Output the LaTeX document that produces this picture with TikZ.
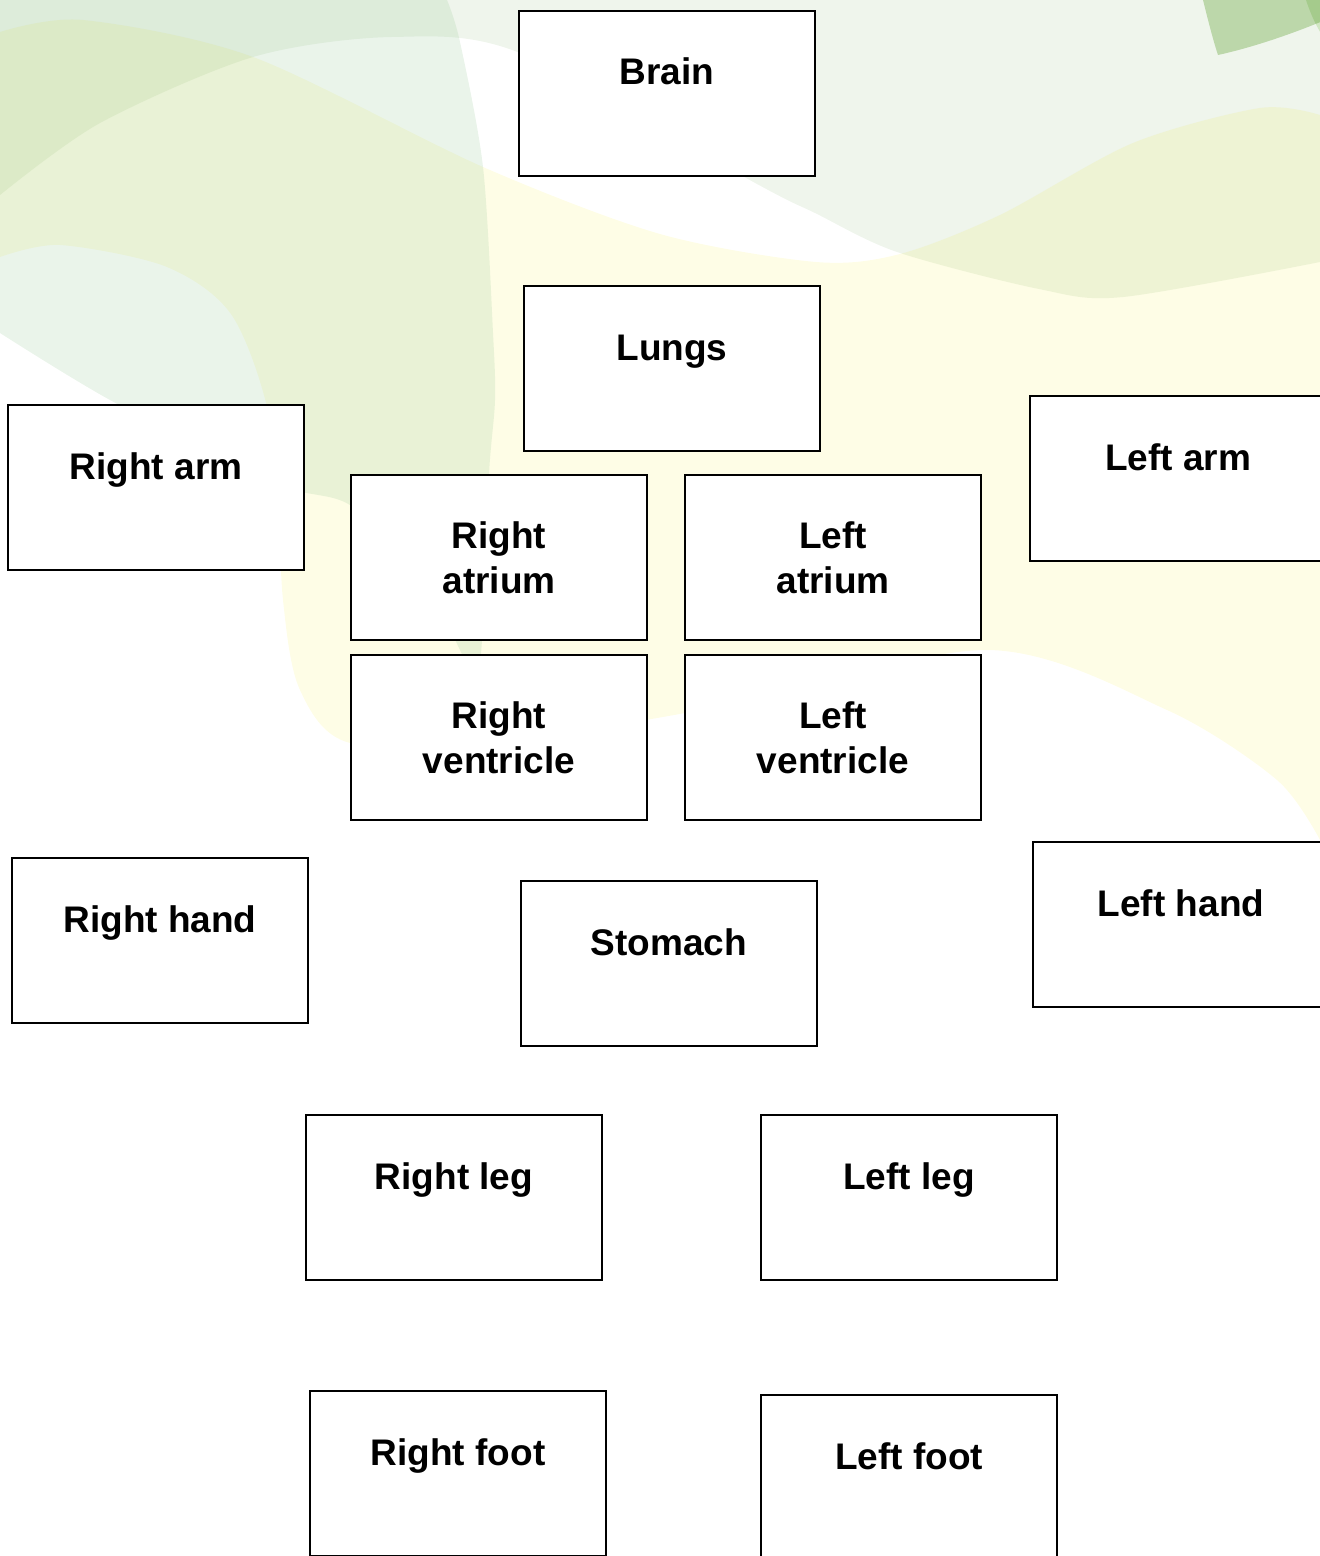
\documentclass[tikz,border=0pt]{standalone}
\usepackage{fontspec}
\setmainfont{Liberation Sans}
\usetikzlibrary{positioning}

\definecolor{sun}{RGB}{254,253,230}
\definecolor{haze}{RGB}{239,245,236}
\definecolor{mint}{RGB}{150,200,150}
\definecolor{fern}{RGB}{201,224,184}
\definecolor{moss}{RGB}{224,241,211}

\begin{document}
\begin{tikzpicture}[x=0.5pt,y=-0.5pt,
  wash/.style={blend mode=multiply},
  organ/.style={draw=black, line width=1.4pt, fill=white, anchor=north west,
    inner sep=0pt, outer sep=0pt, minimum width=148pt, minimum height=82.5pt,
    font=\fontsize{18.5}{22.5}\selectfont\bfseries},
  oneline/.style={organ, text height=37pt, text depth=45.5pt},
  twoline/.style={organ, align=center}]
  \useasboundingbox (0,0) rectangle (1320,1556);
  \clip (0,0) rectangle (1320,1556);

  % background swooshes
  \fill[sun] plot[smooth] coordinates {(0,32) (83,20) (253,57) (483,167) (660,234) (816,262)
      (900,254) (1000,215) (1133,143) (1260,108) (1320,115)}
    -- (1340,115) -- (1340,865)
    -- plot[smooth] coordinates {(1320,840) (1277,780) (1167,710) (985,650) (685,713) (500,740)
      (350,743) (300,690) (283,600) (272,430) (233,317) (167,267) (60,245) (0,257)}
    -- cycle;
  \fill[haze,wash] (-10,-10) -- (1340,-10) -- (1340,262)
    -- plot[smooth] coordinates {(1320,262) (1123,297) (1039,289) (897,252) (815,213) (757,184)
      (520,53) (392,37) (253,57) (100,123) (0,195)}
    -- (-10,195) -- cycle;
  \fill[mint,fill opacity=0.2] (-10,-10) -- (447,-10)
    -- plot[smooth] coordinates {(447,0) (460,42) (483,167) (493,333) (495,400) (489,474)
      (482,640) (476,690)}
    -- plot[smooth] coordinates {(476,690) (460,650) (420,575) (350,505) (273,483) (110,400) (0,333)}
    -- (-10,333) -- cycle;
  \fill[fern,wash] (1203,-10) -- (1203,0) .. controls (1208,20) and (1213,40) .. (1218,55)
    .. controls (1250,48) and (1290,35) .. (1330,18) -- (1330,-10) -- cycle;
  \fill[moss,wash] (1306,-10) -- (1306,0) .. controls (1310,12) and (1315,24) .. (1322,35)
    -- (1330,35) -- (1330,-10) -- cycle;

  \node[oneline] (brain) at (519,11) {Brain};
  \node[oneline] (lungs) at (524,286) {Lungs};
  \node[oneline] (rarm) at (8,405) {Right arm};
  \node[oneline] (larm) at (1030,396) {Left arm};

  \node[twoline] (ratrium) at (351,475) {Right\\atrium};
  \node[twoline, right=19pt of ratrium] (latrium) {Left\\atrium};
  \node[twoline, below=7.5pt of ratrium] (rvent) {Right\\ventricle};
  \node[twoline, right=19pt of rvent] (lvent) {Left\\ventricle};

  \node[oneline] (rhand) at (12,858) {Right hand};
  \node[oneline] (stomach) at (521,881) {Stomach};
  \node[oneline] (lhand) at (1033,842) {Left hand};
  \node[oneline] (rleg) at (306,1115) {Right leg};
  \node[oneline] (lleg) at (761,1115) {Left leg};
  \node[oneline] (rfoot) at (310,1391) {Right foot};
  \node[oneline] (lfoot) at (761,1395) {Left foot};
\end{tikzpicture}
\end{document}
